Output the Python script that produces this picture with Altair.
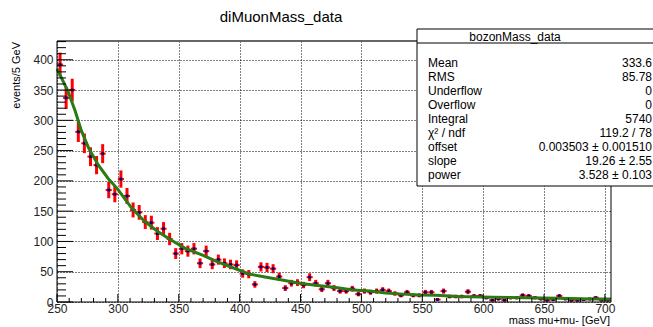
import altair as alt
import numpy as np
import pandas as pd

# Histogram of the di-muon invariant mass, 5 GeV bins from 250 to 705 GeV
bin_width = 5.0
bin_centers = [252.5 + bin_width * i for i in range(91)]
counts = [
    392, 337, 350, 281, 262, 240, 226, 245, 185, 178,
    203, 175, 152, 148, 132, 131, 113, 121, 104, 80,
    88, 84, 88, 64, 84, 62, 70, 64, 62, 61,
    47, 46, 29, 58, 57, 55, 42, 23, 31, 32,
    28, 41, 31, 21, 31, 23, 18, 18, 22, 13,
    18, 16, 18, 20, 18, 14, 11, 16, 11, 11,
    16, 16, 4, 18, 9, 9, 9, 17, 10, 10,
    7, 3, 5, 3, 7, 7, 11, 10, 7, 5,
    3, 4, 10, 5, 3, 3, 4, 5, 7, 3,
    3,
]

# Fitted curve, sampled along the mass axis
fit_mass = [250, 252.5, 259, 265, 270, 276, 284, 292, 300, 311, 322, 333, 344,
            355, 370, 381, 394, 408, 422, 436, 449, 466, 479, 493, 507, 520,
            534, 548, 561, 580, 608, 635, 662, 690, 705]
fit_value = [385, 375, 348, 315, 283, 254, 226, 204, 186, 156, 133, 116, 102,
             89, 77, 67, 57, 46, 41, 36, 31, 27, 24, 20, 18, 15,
             13, 11.5, 11, 9, 8, 7, 6, 5, 5]

# Statistics box contents
stats_title = "bozonMass_data"
stats_labels = ["Mean", "RMS", "Underflow", "Overflow", "Integral", "χ² / ndf",
                "offset", "slope", "power"]
stats_values = ["333.6", "85.78", "0", "0", "5740", "119.2 / 78",
                "0.003503 ± 0.001510", "19.26 ± 2.55", "3.528 ± 0.103"]

x_ticks_major = list(range(250, 701, 50))
x_ticks_minor = [v for v in range(250, 705, 10) if v % 50 != 0]
y_ticks_major = list(range(0, 401, 50))
y_ticks_minor = [v for v in range(0, 431, 10) if v % 50 != 0]

W, H = 554, 261
FONT = "Liberation Sans"

hist = pd.DataFrame({"mass": bin_centers, "n": counts})
hist["err"] = np.sqrt(hist["n"])
hist["lo"] = hist["n"] - hist["err"]
hist["hi"] = hist["n"] + hist["err"]
hist["xlo"] = hist["mass"] - bin_width / 2
hist["xhi"] = hist["mass"] + bin_width / 2

fit = pd.DataFrame({"mass": fit_mass, "f": fit_value})

xs = alt.Scale(domain=[250, 705], nice=False, zero=False)
ys = alt.Scale(domain=[0, 431], nice=False, zero=False)

# Shared axes: dotted grid at the major ticks, labels only (ticks drawn separately)
xa = alt.Axis(values=x_ticks_major, grid=True, gridDash=[1, 2], gridColor="#000000",
              gridWidth=1, ticks=False, tickSize=0, domain=False, labelFontSize=12,
              labelFont=FONT, labelColor="#222222", labelPadding=1, title=None,
              labelFlush=False)
ya = alt.Axis(values=y_ticks_major, grid=True, gridDash=[1, 2], gridColor="#000000",
              gridWidth=1, ticks=False, tickSize=0, domain=False, labelFontSize=12,
              labelFont=FONT, labelColor="#222222", labelPadding=4, title=None,
              labelFlush=False)


def X(field):
    return alt.X(field, scale=xs, axis=xa)


def Y(field):
    return alt.Y(field, scale=ys, axis=ya)


base = alt.Chart(hist)

vbars = base.mark_rule(color="#ff0000", strokeWidth=3).encode(
    x=X("mass:Q"), y=Y("lo:Q"), y2="hi:Q")
hbars = base.mark_rule(color="#ff0000", strokeWidth=2).encode(
    x=X("xlo:Q"), x2="xhi:Q", y=Y("n:Q"))
markers = base.mark_square(color="#000080", size=8, opacity=1).encode(
    x=X("mass:Q"), y=Y("n:Q"))
curve = alt.Chart(fit).mark_line(color="#2b7a14", strokeWidth=3).encode(
    x=X("mass:Q"), y=Y("f:Q"))

one = pd.DataFrame({"k": [0]})

# Frame lines
frame_top = alt.Chart(one).mark_rule(color="#666666", strokeWidth=2).encode(
    x=alt.value(0), x2=alt.value(W), y=alt.value(0))
frame_right = alt.Chart(one).mark_rule(color="#000000", strokeWidth=1).encode(
    x=alt.value(W), y=alt.value(0), y2=alt.value(H))
frame_left = alt.Chart(one).mark_rule(color="#000000", strokeWidth=1).encode(
    x=alt.value(0), y=alt.value(0), y2=alt.value(H))
frame_bottom = alt.Chart(one).mark_rule(color="#000000", strokeWidth=1).encode(
    x=alt.value(0), x2=alt.value(W), y=alt.value(H))

# Inward ticks on the left and bottom axes
ytm = alt.Chart(pd.DataFrame({"v": y_ticks_major})).mark_rule(color="#000000").encode(
    y=Y("v:Q"), x=alt.value(0), x2=alt.value(16))
ytn = alt.Chart(pd.DataFrame({"v": y_ticks_minor})).mark_rule(color="#000000").encode(
    y=Y("v:Q"), x=alt.value(0), x2=alt.value(9))
xtm = alt.Chart(pd.DataFrame({"v": x_ticks_major})).mark_rule(color="#000000").encode(
    x=X("v:Q"), y=alt.value(H), y2=alt.value(H - 8))
xtn = alt.Chart(pd.DataFrame({"v": x_ticks_minor})).mark_rule(color="#000000").encode(
    x=X("v:Q"), y=alt.value(H), y2=alt.value(H - 4))


def label(text, x, y, size=12, align="left", angle=0, baseline="middle"):
    return alt.Chart(one).mark_text(
        text=text, align=align, baseline=baseline, angle=angle,
        fontSize=size, font=FONT, color="#000000",
    ).encode(x=alt.value(x), y=alt.value(y))


title = label("diMuonMass_data", 224, -24, size=15, align="center")
ytitle = label("events/5 GeV", -40, 1, size=11, align="right", angle=270)
xtitle = label("mass mu+mu- [GeV]", 553, 280, size=11, align="right")

# Statistics box
box = alt.Chart(one).mark_rect(fill="#ffffff", stroke="#000000", strokeWidth=1).encode(
    x=alt.value(360), x2=alt.value(620), y=alt.value(-12), y2=alt.value(145))
box_line = alt.Chart(one).mark_rule(color="#000000", strokeWidth=1).encode(
    x=alt.value(360), x2=alt.value(620), y=alt.value(2))
box_title = label(stats_title, 458, -4, size=12, align="center")

stat_layers = []
for i, (lab, val) in enumerate(zip(stats_labels, stats_values)):
    yy = 22.3 + 13.96 * i
    stat_layers.append(label(lab, 371, yy, size=12, align="left"))
    stat_layers.append(label(val, 595, yy, size=12, align="right"))

chart = alt.layer(
    vbars, hbars, markers, curve,
    frame_top, frame_right, frame_left, frame_bottom,
    ytm, ytn, xtm, xtn,
    title, ytitle, xtitle,
    box, box_line, box_title, *stat_layers,
).properties(
    width=W, height=H,
    autosize=alt.AutoSizeParams(type="none"),
    padding={"left": 57, "top": 41, "right": 42, "bottom": 25},
    background="#ffffff",
).configure_view(stroke=None)

chart.save("out.html", embed_options={"renderer": "svg", "actions": False})
